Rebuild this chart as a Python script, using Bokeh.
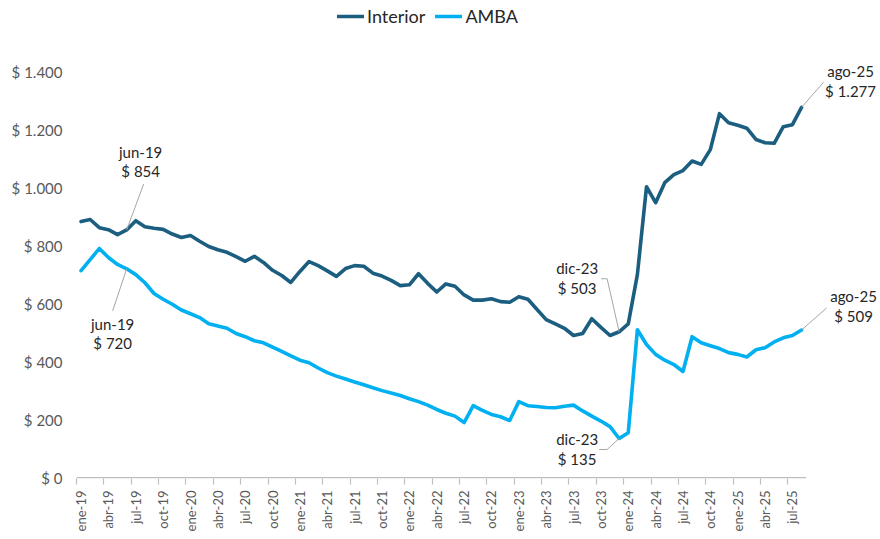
import math
from bokeh.plotting import figure
from bokeh.models import FixedTicker, Legend, LegendItem, Label, Arrow, Range1d, ColumnDataSource
from bokeh.embed import file_html
from bokeh.resources import INLINE

# ---------------- data ----------------
month_abbr = ["ene", "feb", "mar", "abr", "may", "jun", "jul", "ago", "sep", "oct", "nov", "dic"]
years = ["19", "20", "21", "22", "23", "24", "25"]
periods = [f"{m}-{y}" for y in years for m in month_abbr][:80]   # ene-19 .. ago-25

interior = [883, 890, 862, 855, 838, 854, 886, 865, 860, 856, 840, 828,
            835, 815, 797, 786, 777, 762, 746, 763, 742, 715, 697, 673,
            711, 745, 731, 713, 694, 721, 731, 729, 705, 695, 680, 662,
            665, 703, 670, 640, 668, 660, 630, 612, 612, 617, 607, 605,
            624, 615, 580, 545, 530, 515, 490, 497, 548, 518, 490, 503,
            530, 700, 1003, 948, 1017, 1045, 1059, 1092, 1080, 1131, 1255, 1224,
            1215, 1205, 1166, 1155, 1153, 1210, 1217, 1277]

amba = [714, 752, 790, 759, 735, 720, 700, 672, 635, 615, 598, 578,
        565, 552, 531, 523, 515, 497, 486, 472, 465, 450, 435, 420,
        405, 396, 378, 362, 350, 340, 330, 320, 310, 300, 292, 283,
        272, 262, 250, 235, 222, 212, 190, 248, 232, 218, 210, 197,
        262, 248, 245, 242, 241, 246, 250, 230, 212, 195, 176, 135,
        155, 510, 459, 425, 405, 390, 366, 486, 465, 455, 445, 431,
        425, 416, 441, 448, 468, 482, 490, 509]

y_ticks = [0, 200, 400, 600, 800, 1000, 1200, 1400]
x_tick_idx = list(range(0, len(periods), 3))

series_names = ["Interior", "AMBA"]
series_colors = ["#1B5E80", "#00B0F0"]

# annotated points: (series index, period index)
notes = [(0, 5), (1, 5), (0, 59), (1, 59), (0, 79), (1, 79)]


def money(v):
    return "$ " + f"{v:,}".replace(",", ".")


# ---------------- layout ----------------
W, H = 880, 539
ML, MR, MT, MB = 76, 0, 0, 61
PX_MONTH = 9.12        # px per month
PX_USD = 0.29          # px per $
frame_w = W - ML - MR
frame_h = H - MT - MB
y0 = -3
x_start = -0.5

p = figure(width=W, height=H,
           x_range=Range1d(x_start, x_start + frame_w / PX_MONTH),
           y_range=Range1d(y0, y0 + frame_h / PX_USD),
           output_backend="svg", toolbar_location=None,
           min_border_left=ML, min_border_right=MR,
           min_border_top=MT, min_border_bottom=MB)
p.outline_line_color = None
p.xgrid.grid_line_color = None
p.ygrid.grid_line_color = None
p.background_fill_color = "white"
p.border_fill_color = "white"

FONT = "Lato"
TXT = "#595959"

# y axis
p.yaxis.ticker = FixedTicker(ticks=y_ticks)
p.yaxis.major_label_overrides = {t: money(t) for t in y_ticks}
p.yaxis.axis_line_color = None
p.yaxis.major_tick_line_color = None
p.yaxis.major_tick_out = 0
p.yaxis.major_tick_in = 0
p.yaxis.minor_tick_line_color = None
p.yaxis.minor_tick_out = 0
p.yaxis.major_label_standoff = 14
p.yaxis.major_label_text_font = FONT
p.yaxis.major_label_text_font_size = "15px"
p.yaxis.major_label_text_color = TXT

# x axis (line drawn as a baseline over the category span only)
p.xaxis.ticker = FixedTicker(ticks=x_tick_idx, minor_ticks=[t - 0.5 for t in x_tick_idx])
p.xaxis.major_label_overrides = {i: periods[i] for i in x_tick_idx}
p.xaxis.major_label_orientation = math.pi / 2
p.xaxis.axis_line_color = None
p.xaxis.major_tick_line_color = None
p.xaxis.major_tick_out = 0
p.xaxis.major_tick_in = 0
p.xaxis.minor_tick_line_color = "#BFBFBF"
p.xaxis.minor_tick_line_width = 1.2
p.xaxis.minor_tick_out = 6
p.xaxis.minor_tick_in = 0
p.xaxis.major_label_standoff = 6
p.xaxis.major_label_text_font = FONT
p.xaxis.major_label_text_font_size = "13px"
p.xaxis.major_label_text_color = TXT

p.segment(x0=[-0.5], x1=[len(periods) - 0.5], y0=[0], y1=[0],
          line_color="#BFBFBF", line_width=1.5)

# lines
idx = list(range(len(periods)))
renderers = []
for name, vals, col in zip(series_names, [interior, amba], series_colors):
    src = ColumnDataSource(dict(x=idx, y=vals))
    r = p.line("x", "y", source=src, line_color=col, line_width=3.6,
               line_join="round", line_cap="round")
    renderers.append(r)

# legend at the top of the chart
legend = Legend(items=[LegendItem(label=n, renderers=[r]) for n, r in zip(series_names, renderers)],
                orientation="horizontal", location=(261, frame_h - 27),
                label_text_font=FONT, label_text_font_size="18px", label_text_color="#262626",
                glyph_width=27, glyph_height=20, label_standoff=3, spacing=10,
                padding=0, margin=0, border_line_color=None, background_fill_alpha=0)
p.add_layout(legend)

# annotations: pixel offsets (y up) converted to data units
note_style = {
    (0, 5): (14, 78, 59, [(0, 0), (17, 46)]),
    (1, 5): (-14, -55, -74, [(0, 0), (-14, -42)]),
    (0, 59): (-42, 64, 44, [(0, 0), (-12, 53), (-18, 53)]),
    (1, 59): (-42, -1, -21, [(0, 0), (-12, -11), (-20, -11)]),
    (0, 79): (49, 36, 16, [(0, 0), (22, 25)]),
    (1, 79): (52, 34, 14, [(0, 0), (25, 22)]),
}
data = [interior, amba]
for s, i in notes:
    v = data[s][i]
    dx, dy1, dy2, path = note_style[(s, i)]
    for txt, dy in ((periods[i], dy1), (money(v), dy2)):
        p.add_layout(Label(x=i + dx / PX_MONTH, y=v + dy / PX_USD, text=txt,
                           text_align="center", text_baseline="middle",
                           text_font=FONT, text_font_size="15px", text_color="#262626"))
    for (ax, ay), (bx, by) in zip(path[:-1], path[1:]):
        p.add_layout(Arrow(end=None, x_start=i + ax / PX_MONTH, y_start=v + ay / PX_USD,
                           x_end=i + bx / PX_MONTH, y_end=v + by / PX_USD,
                           line_color="#A6A6A6", line_width=1))

open("out.html", "w").write(file_html(p, INLINE))
